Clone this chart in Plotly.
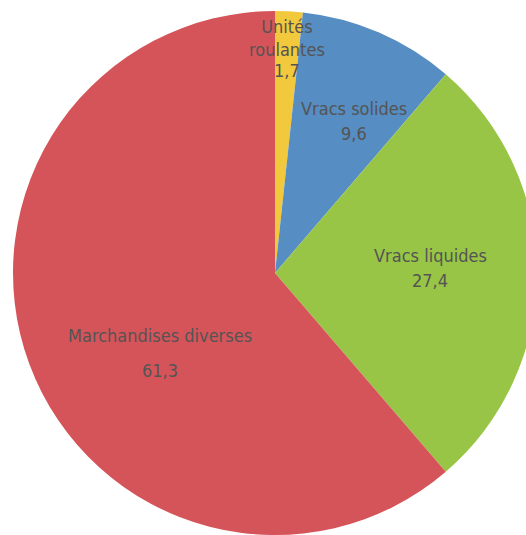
import math
import plotly.graph_objects as go

# Freight shares by cargo type (%)
categories = ["Unités roulantes", "Vracs solides", "Vracs liquides", "Marchandises diverses"]
label_lines = ["Unités<br>roulantes", "Vracs solides", "Vracs liquides", "Marchandises diverses"]
shares = [1.7, 9.6, 27.4, 61.3]
colors = ["#F2C83C", "#568DC2", "#98C546", "#D5545A"]

# Canvas geometry: the disc is larger than the visible page and runs off right/bottom
FIG_W, FIG_H = 550, 546
PIE_TOP, PIE_BOTTOM = 11, 535
dom_y = [1 - PIE_BOTTOM / FIG_H, 1 - PIE_TOP / FIG_H]
cx = FIG_W / 2
cy = (PIE_TOP + PIE_BOTTOM) / 2
R = (PIE_BOTTOM - PIE_TOP) / 2

# Label placement per slice: radius fraction, angular nudge (deg), half gap name/value (px)
label_radius = [0.837, 0.656, 0.592, 0.534]
label_turn = [0.0, 4.1, -1.7, -14.4]
label_gap = [16.5, 12.5, 12.5, 17.5]

FONT = "DejaVu Sans Condensed, Liberation Sans Narrow, Liberation Sans, sans-serif"
TEXT_COLOR = "#545454"
FONT_SIZE = 18

fig = go.Figure(
    go.Pie(
        values=shares,
        labels=categories,
        sort=False,
        direction="clockwise",
        rotation=0,
        marker=dict(colors=colors, line=dict(width=0)),
        textinfo="none",
        hoverinfo="none",
        domain=dict(x=[0, 1], y=dom_y),
        showlegend=False,
    )
)

total = sum(shares)
cum = 0.0
annotations = []
for name, v, f, turn, gap in zip(label_lines, shares, label_radius, label_turn, label_gap):
    mid = math.radians((cum + v / 2) / total * 360 + turn)
    cum += v
    px = cx + f * R * math.sin(mid)
    py = cy - f * R * math.cos(mid)
    xp, yp = px / FIG_W, 1 - py / FIG_H
    value_txt = f"{v:.1f}".replace(".", ",")
    for txt, shift in ((name, gap), (value_txt, -gap)):
        annotations.append(
            dict(
                x=xp, y=yp, xref="paper", yref="paper",
                text=txt, showarrow=False, yshift=shift,
                xanchor="center", yanchor="middle",
                font=dict(family=FONT, size=FONT_SIZE, color=TEXT_COLOR),
            )
        )

fig.update_layout(
    width=FIG_W,
    height=FIG_H,
    margin=dict(l=0, r=0, t=0, b=0),
    paper_bgcolor="white",
    plot_bgcolor="white",
    annotations=annotations,
)

fig.write_html(
    "out.html",
    config={"displayModeBar": False, "staticPlot": True},
    post_script=(
        "document.documentElement.style.overflow='hidden';"
        "document.body.style.overflow='hidden';"
        "document.body.style.margin='0';"
    ),
)
